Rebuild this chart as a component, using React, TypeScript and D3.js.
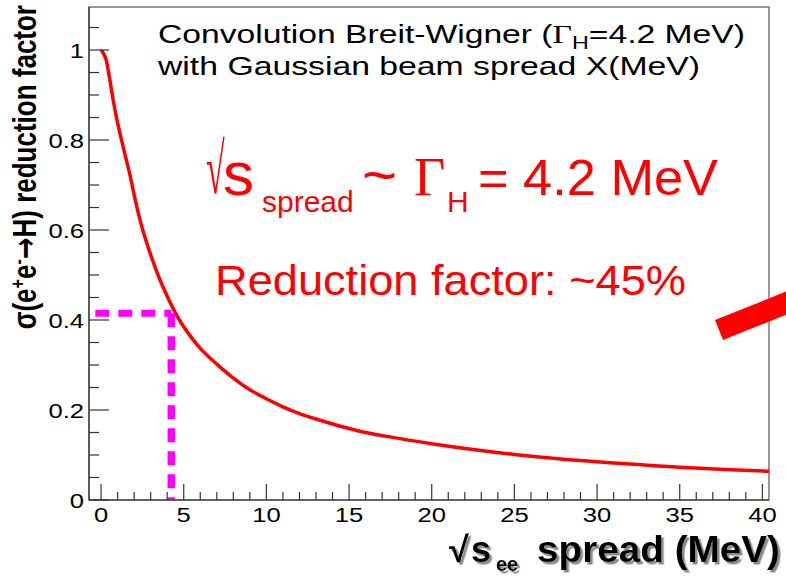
import React from "react";
import * as d3 from "d3";

const spreadX = [0, 0.25, 0.5, 0.75, 1, 1.25, 1.5, 1.75, 2, 2.25, 2.5, 3, 3.5, 4, 4.5, 5, 6, 7, 8, 9, 10, 11, 12, 13, 14, 15, 16, 18, 20, 22.5, 25, 27.5, 30, 35, 40.4];
const reduction = [1.0, 0.985, 0.94, 0.885, 0.838, 0.798, 0.76, 0.722, 0.678, 0.638, 0.603, 0.545, 0.495, 0.453, 0.416, 0.385, 0.337, 0.302, 0.271, 0.245, 0.225, 0.207, 0.192, 0.18, 0.169, 0.159, 0.15, 0.137, 0.125, 0.112, 0.101, 0.092, 0.085, 0.073, 0.064];

const xMajor = [0, 5, 10, 15, 20, 25, 30, 35, 40];
const xMajorLabels = ["0", "5", "10", "15", "20", "25", "30", "35", "40"];
const yMajor = [0, 0.2, 0.4, 0.6, 0.8, 1.0];
const yMajorLabels = ["0", "0.2", "0.4", "0.6", "0.8", "1"];

const markX = [-0.35, 4.25];
const markY = [0.415, 0];

const W = 786;
const H = 576;
const SANS = "'Liberation Sans', Arial, Helvetica, sans-serif";
const SERIF = "'Liberation Serif', 'Times New Roman', serif";

export default function App() {
  const x = d3.scaleLinear().domain([-0.73, 40.4]).range([89, 769]);
  const y = d3.scaleLinear().domain([0, 1.0956]).range([500, 7]);

  const xMinor = d3.range(0, 41, 1).filter((v) => v % 5 !== 0);
  const yMinor = d3.range(0, 1.06, 0.05).filter((v) => Math.abs(v / 0.2 - Math.round(v / 0.2)) > 1e-6);

  const line = d3
    .line<number>()
    .x((_, i) => x(spreadX[i]))
    .y((d) => y(d))
    .curve(d3.curveCatmullRom.alpha(0.5));

  const [x0, y0] = [x.range()[0], y.range()[0]];
  const [x1, y1] = [x.range()[1], y.range()[1]];

  return (
    <svg width={W} height={H} style={{ position: "absolute", left: 0, top: 0, background: "#fff" }}>
      <defs>
        <filter id="shadow" x="-5%" y="-20%" width="115%" height="150%">
          <feDropShadow dx={2.5} dy={2.5} stdDeviation={0.6} floodColor="#8a8a8a" floodOpacity={1} />
        </filter>
      </defs>
      <rect x={0} y={0} width={W} height={H} fill="#fff" />
      {/* frame */}
      <rect x={x0} y={y1} width={x1 - x0} height={y0 - y1} fill="none" stroke="#777" strokeWidth={1.5} />

      {/* curve */}
      <path d={line(reduction) || ""} fill="none" stroke="#ff0000" strokeWidth={3.5} strokeLinejoin="round" />

      {/* magenta dashed marker */}
      <line x1={x(markX[0])} x2={x(markX[1])} y1={y(markY[0])} y2={y(markY[0])} stroke="#ff00ff" strokeWidth={7} strokeDasharray="14 9" />
      <line x1={x(markX[1])} x2={x(markX[1])} y1={y(markY[0])} y2={y(markY[1])} stroke="#ff00ff" strokeWidth={7.5} strokeDasharray="14 9" />

      {/* axes */}
      <line x1={x0} x2={x1} y1={y0} y2={y0} stroke="#333" strokeWidth={1.2} />
      <line x1={x0} x2={x0} y1={y0} y2={y1} stroke="#333" strokeWidth={1.2} />
      {xMajor.map((v) => (
        <line key={"xM" + v} x1={x(v)} x2={x(v)} y1={y0} y2={y0 - 16} stroke="#333" strokeWidth={1.2} />
      ))}
      {xMinor.map((v) => (
        <line key={"xm" + v} x1={x(v)} x2={x(v)} y1={y0} y2={y0 - 8} stroke="#333" strokeWidth={1.2} />
      ))}
      {yMajor.map((v) => (
        <line key={"yM" + v} x1={x0} x2={x0 + 20} y1={y(v)} y2={y(v)} stroke="#333" strokeWidth={1.2} />
      ))}
      {yMinor.map((v) => (
        <line key={"ym" + v} x1={x0} x2={x0 + 10} y1={y(v)} y2={y(v)} stroke="#333" strokeWidth={1.2} />
      ))}

      {/* tick labels */}
      {xMajor.map((v, i) => (
        <text key={"xl" + v} transform={`translate(${x(v)},${y0 + 22}) scale(1.22,1)`} textAnchor="middle" fontFamily={SANS} fontSize={21} fill="#000">
          {xMajorLabels[i]}
        </text>
      ))}
      {yMajor.map((v, i) => (
        <text key={"yl" + v} transform={`translate(${x0 - 5},${y(v) + 7.5}) scale(1.22,1)`} textAnchor="end" fontFamily={SANS} fontSize={21} fill="#000">
          {yMajorLabels[i]}
        </text>
      ))}

      {/* y axis title */}
      <text transform="translate(36,5) rotate(-90) scale(1,1.25)" textAnchor="end" fontFamily={SANS} fontWeight="bold" fontSize={26} fill="#000">
        <tspan>σ(e</tspan>
        <tspan dy={-9} fontSize={16}>+</tspan>
        <tspan dy={9}>e</tspan>
        <tspan dy={-9} fontSize={16}>-</tspan>
        <tspan dy={9} fontFamily="'DejaVu Sans', sans-serif">→</tspan>
        <tspan>H) reduction factor</tspan>
      </text>

      {/* x axis title with shadow */}
      <g filter="url(#shadow)" fill="#000" fontFamily={SANS} fontWeight="bold">
        <text x={449} y={562} fontSize={36}>√</text>
        <text x={471} y={562} fontSize={36}>s</text>
        <text x={496} y={571} fontSize={20}>ee</text>
        <text x={537} y={562} fontSize={36} textLength={243} lengthAdjust="spacingAndGlyphs">spread (MeV)</text>
      </g>

      {/* description */}
      <text x={158} y={43} fontFamily={SANS} fontSize={26} fill="#000" textLength={587} lengthAdjust="spacingAndGlyphs">
        <tspan>Convolution Breit-Wigner (</tspan>
        <tspan fontFamily={SERIF}>Γ</tspan>
        <tspan dy={6} fontSize={18}>H</tspan>
        <tspan dy={-6}>=4.2 MeV)</tspan>
      </text>
      <text x={158} y={75} fontFamily={SANS} fontSize={26} fill="#000" textLength={542} lengthAdjust="spacingAndGlyphs">
        with Gaussian beam spread X(MeV)
      </text>

      {/* red annotations */}
      <g fill="#ff0000">
        <text transform="translate(206,193) scale(1,2.1)" fontFamily={SERIF} fontSize={34}>√</text>
        <text x={223} y={195} fontFamily={SANS} fontSize={62}>s</text>
        <text x={262} y={212} fontFamily={SANS} fontSize={30}>spread</text>
        <text x={362} y={195} fontFamily={SANS} fontSize={60}>~</text>
        <text x={414} y={195} fontFamily={SERIF} fontSize={54}>Γ</text>
        <text x={447} y={212} fontFamily={SANS} fontSize={30}>H</text>
        <text x={478} y={195} fontFamily={SANS} fontSize={50} textLength={240} lengthAdjust="spacingAndGlyphs">= 4.2 MeV</text>
        <text x={215} y={295} fontFamily={SANS} fontSize={42} textLength={471} lengthAdjust="spacingAndGlyphs">Reduction factor: ~45%</text>
      </g>
      <line x1={719} y1={330} x2={810} y2={293.6} stroke="#ff0000" strokeWidth={21.5} />
    </svg>
  );
}
